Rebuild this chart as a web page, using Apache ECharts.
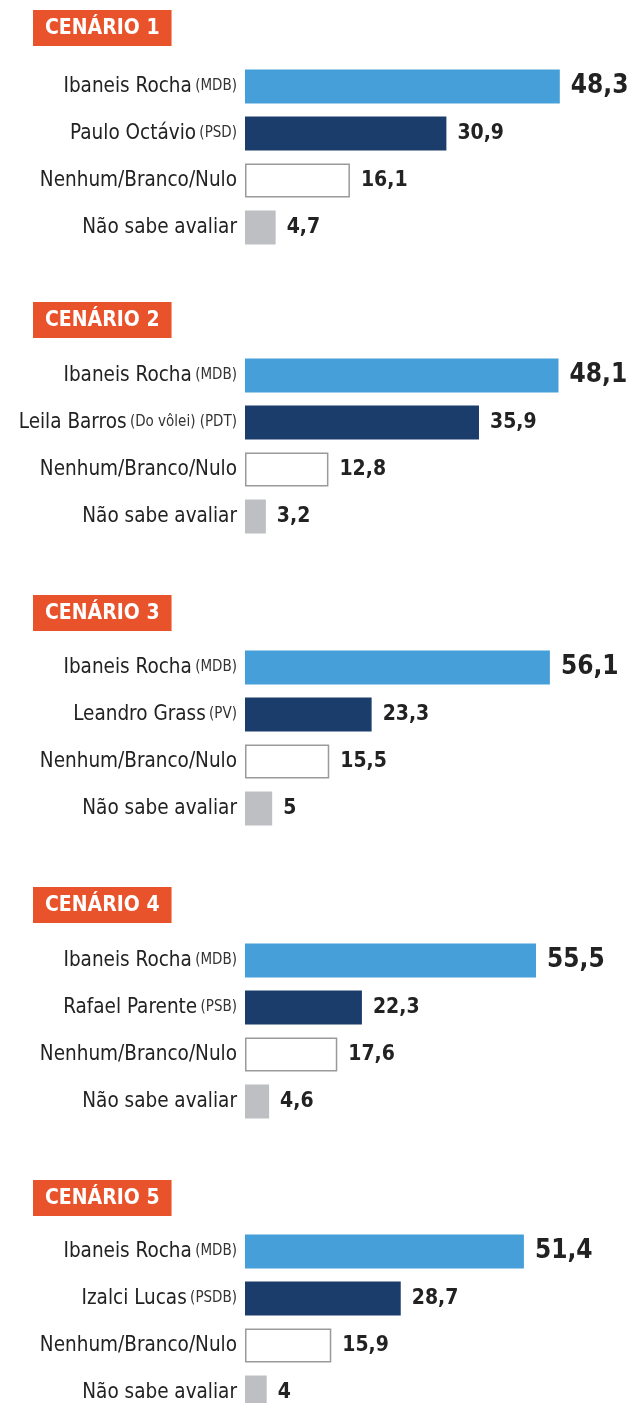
<!DOCTYPE html>
<html>
<head>
<meta charset="utf-8">
<script src="https://cdn.jsdelivr.net/npm/echarts@6/dist/echarts.min.js"></script>
<style>
  html, body { margin: 0; padding: 0; background: #fff; overflow: hidden; }
  #chart { width: 630px; height: 1425px; }
</style>
</head>
<body>
<div id="chart"></div>
<script>
const FONT = '"Liberation Sans Narrow", "DejaVu Sans Condensed", "Roboto", sans-serif'

const scenarios = ['CENÁRIO 1', 'CENÁRIO 2', 'CENÁRIO 3', 'CENÁRIO 4', 'CENÁRIO 5']

// [name, party]
const candidates1 = [['Ibaneis Rocha', '(MDB)'], ['Paulo Octávio', '(PSD)'], ['Nenhum/Branco/Nulo', ''], ['Não sabe avaliar', '']]
const candidates2 = [['Ibaneis Rocha', '(MDB)'], ['Leila Barros', '(Do vôlei) (PDT)'], ['Nenhum/Branco/Nulo', ''], ['Não sabe avaliar', '']]
const candidates3 = [['Ibaneis Rocha', '(MDB)'], ['Leandro Grass', '(PV)'], ['Nenhum/Branco/Nulo', ''], ['Não sabe avaliar', '']]
const candidates4 = [['Ibaneis Rocha', '(MDB)'], ['Rafael Parente', '(PSB)'], ['Nenhum/Branco/Nulo', ''], ['Não sabe avaliar', '']]
const candidates5 = [['Ibaneis Rocha', '(MDB)'], ['Izalci Lucas', '(PSDB)'], ['Nenhum/Branco/Nulo', ''], ['Não sabe avaliar', '']]

const values1 = [48.3, 30.9, 16.1, 4.7]
const values2 = [48.1, 35.9, 12.8, 3.2]
const values3 = [56.1, 23.3, 15.5, 5]
const values4 = [55.5, 22.3, 17.6, 4.6]
const values5 = [51.4, 28.7, 15.9, 4]

// axis maximum per scenario (the original uses a different scale per block)
const axisMax = [53.7, 53.7, 64.4, 66.75, 64.5]

const allCandidates = [candidates1, candidates2, candidates3, candidates4, candidates5]
const allValues = [values1, values2, values3, values4, values5]

const barColors = ['#479fd9', '#1b3d6b', '#ffffff', '#bdbfc2']
const headerTops = [10, 302, 595, 887, 1180]
const gridTops = [63, 352, 644, 937, 1228]

const chart = echarts.init(document.getElementById('chart'))

const title = [], grid = [], xAxis = [], yAxis = [], series = []

scenarios.forEach((name, i) => {
  title.push({
    text: name,
    left: 33,
    top: headerTops[i],
    backgroundColor: '#e9532b',
    padding: [7, 12, 6, 12],
    textStyle: { color: '#fff', fontFamily: FONT, fontWeight: 'bold', fontSize: 21, lineHeight: 23 }
  })
  grid.push({ left: 245, width: 350, top: gridTops[i], height: 188 })
  xAxis.push({
    gridIndex: i, type: 'value', min: 0, max: axisMax[i],
    show: false
  })
  yAxis.push({
    gridIndex: i,
    type: 'category',
    inverse: true,
    data: allCandidates[i].map(c => c[0] + '|' + c[1]),
    axisLine: { show: false },
    axisTick: { show: false },
    axisLabel: {
      margin: 8,
      formatter: v => {
        const [n, p] = v.split('|')
        return p ? '{n|' + n + '} {p|' + p + '}' : '{n|' + n + '}'
      },
      rich: {
        n: { fontFamily: FONT, fontSize: 20.5, color: '#222' },
        p: { fontFamily: FONT, fontSize: 15, color: '#333' }
      }
    }
  })
  series.push({
    type: 'bar',
    xAxisIndex: i,
    yAxisIndex: i,
    barWidth: 34,
    data: allValues[i].map((v, j) => ({
      value: v,
      itemStyle: {
        color: barColors[j],
        borderColor: j === 2 ? '#9a9a9a' : barColors[j],
        borderWidth: j === 2 ? 1.5 : 0
      },
      label: { fontSize: j === 0 ? 26 : 21 }
    })),
    label: {
      show: true,
      position: 'right',
      distance: 11,
      fontFamily: FONT,
      fontWeight: 'bold',
      color: '#222',
      formatter: p => String(p.value).replace('.', ',')
    },
    animation: false
  })
})

chart.setOption({ backgroundColor: '#fff', title, grid, xAxis, yAxis, series, animation: false })
</script>
</body>
</html>
